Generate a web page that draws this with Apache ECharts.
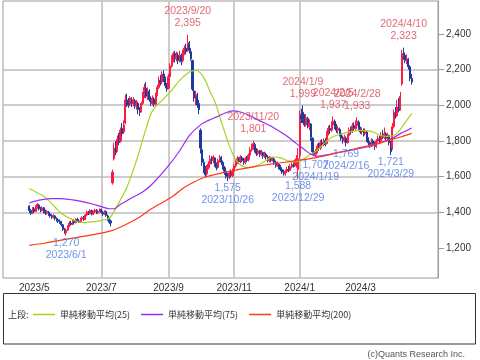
<!DOCTYPE html>
<html><head><meta charset="utf-8">
<script src="https://cdn.jsdelivr.net/npm/echarts@6/dist/echarts.min.js"></script>
<style>html,body{margin:0;padding:0;background:#fff}#c{width:480px;height:360px}</style>
</head><body><div id="c"></div>
<script>
// ---- categories: trading days (TSE calendar) ----
const startDate = '2023/4/26';
const endDate = '2024/4/17';
const holidays = ['2023/5/3','2023/5/4','2023/5/5','2023/7/17','2023/8/11','2023/9/18','2023/10/9','2023/11/3','2023/11/23','2024/1/1','2024/1/2','2024/1/3','2024/1/8','2024/2/12','2024/2/23','2024/3/20'];
const monthLabels = ['2023/5','2023/7','2023/9','2023/11','2024/1','2024/3'];
const yTicks = [1200,1400,1600,1800,2000,2200,2400];

// ---- daily OHLC ----
const opens = [
1435,1410,1400,1420,1405,1435,1440,1420,1410,1425,
1405,1395,1400,1390,1380,1372,1380,1365,1358,1350,
1345,1330,1305,1285,1300,1322,1340,1332,1350,1342,
1360,1352,1348,1362,1370,1360,1385,1400,1392,1410,
1390,1402,1412,1396,1405,1415,1400,1390,1405,1380,
1360,1352,1565,1700,1775,1745,1810,1800,1870,1850,
1900,2030,2020,2005,2030,2010,2025,1995,2010,1975,
1965,2010,2060,2095,2050,2075,2030,2010,2035,2005,
2060,2100,2140,2130,2175,2150,2110,2095,2160,2220,
2250,2290,2260,2280,2250,2280,2250,2290,2320,2305,
2345,2300,2250,2080,2040,2050,2010,1860,1750,1680,
1640,1615,1650,1670,1700,1690,1705,1670,1650,1690,
1705,1680,1650,1630,1600,1595,1620,1605,1630,1660,
1680,1700,1685,1705,1690,1680,1700,1695,1720,1750,
1760,1780,1745,1730,1745,1725,1735,1715,1725,1710,
1690,1705,1690,1700,1680,1660,1670,1650,1640,1625,
1615,1630,1640,1635,1655,1665,1660,1660,1640,1720,
1940,1960,1920,1890,1925,1880,1895,1815,1740,1725,
1740,1770,1760,1790,1780,1800,1785,1840,1870,1860,
1890,1910,1880,1860,1865,1840,1815,1800,1815,1790,
1830,1860,1850,1885,1870,1885,1905,1870,1850,1860,
1840,1850,1810,1790,1780,1800,1785,1770,1800,1815,
1800,1830,1820,1840,1815,1830,1790,1760,1880,1960,
1940,1990,1980,2120,2290,2280,2250,2255,2215,2150];
const closes = [
1410,1395,1425,1405,1435,1445,1420,1410,1425,1405,
1395,1405,1390,1380,1372,1382,1365,1358,1350,1345,
1330,1305,1290,1300,1322,1340,1332,1350,1342,1360,
1352,1348,1362,1370,1360,1385,1402,1392,1410,1390,
1402,1412,1396,1405,1418,1400,1390,1405,1382,1362,
1345,1340,1625,1760,1735,1810,1790,1860,1840,1890,
2030,2020,2000,2040,2010,2030,1995,2015,1975,1960,
2010,2060,2100,2050,2080,2030,2010,2040,2005,2060,
2100,2140,2130,2175,2150,2110,2090,2160,2220,2250,
2290,2260,2280,2250,2280,2245,2290,2320,2300,2350,
2310,2260,2090,2040,2060,2000,1975,1760,1680,1640,
1610,1650,1670,1700,1690,1710,1670,1650,1690,1710,
1680,1650,1630,1600,1595,1620,1605,1630,1660,1680,
1700,1685,1710,1690,1680,1700,1690,1720,1750,1770,
1785,1745,1730,1745,1725,1735,1715,1725,1710,1690,
1705,1690,1700,1680,1660,1670,1650,1640,1625,1615,
1630,1640,1635,1655,1665,1660,1680,1700,1700,1950,
1920,1920,1890,1930,1880,1900,1820,1740,1725,1740,
1770,1760,1790,1780,1800,1780,1840,1870,1860,1890,
1910,1880,1860,1870,1840,1815,1800,1820,1790,1830,
1860,1850,1885,1870,1900,1910,1870,1850,1860,1840,
1850,1810,1790,1780,1800,1785,1770,1800,1815,1800,
1830,1820,1840,1815,1830,1790,1740,1880,1960,1940,
1990,1970,2050,2290,2280,2250,2260,2215,2150,2130];
const lows = [
1395,1385,1390,1395,1400,1420,1410,1400,1405,1395,
1385,1388,1380,1370,1362,1365,1355,1348,1340,1335,
1320,1295,1280,1270,1295,1315,1325,1328,1335,1338,
1345,1340,1342,1355,1352,1358,1378,1385,1388,1382,
1385,1395,1390,1390,1400,1392,1380,1385,1375,1352,
1335,1322,1555,1690,1720,1740,1775,1790,1830,1840,
1895,1990,1985,1995,1990,1995,1980,1975,1950,1940,
1960,2000,2040,2040,2030,2020,1995,2000,1990,2000,
2050,2090,2110,2120,2130,2095,2075,2090,2150,2210,
2240,2240,2245,2230,2240,2225,2240,2280,2285,2300,
2290,2250,2080,2020,2000,1985,1950,1730,1660,1620,
1595,1605,1640,1660,1670,1675,1655,1635,1645,1680,
1665,1640,1610,1590,1575,1585,1595,1598,1620,1650,
1670,1670,1675,1680,1665,1670,1680,1685,1710,1740,
1750,1735,1715,1720,1710,1715,1700,1705,1695,1680,
1680,1680,1685,1665,1650,1655,1640,1630,1615,1605,
1605,1620,1625,1630,1645,1650,1655,1650,1588,1700,
1900,1900,1880,1880,1870,1860,1800,1725,1715,1707,
1730,1745,1750,1765,1770,1770,1780,1830,1840,1850,
1880,1865,1845,1840,1825,1800,1785,1790,1769,1785,
1820,1835,1845,1855,1860,1875,1860,1840,1835,1825,
1830,1795,1775,1760,1765,1770,1750,1760,1790,1790,
1795,1810,1810,1800,1805,1775,1721,1750,1870,1925,
1935,1960,1970,2110,2255,2235,2230,2200,2135,2115];
const highs = [
1440,1420,1430,1430,1440,1450,1448,1430,1435,1430,
1415,1412,1408,1398,1390,1390,1385,1372,1368,1360,
1352,1335,1312,1310,1328,1350,1352,1360,1362,1368,
1370,1362,1370,1378,1380,1392,1410,1408,1418,1415,
1410,1420,1418,1412,1422,1420,1408,1412,1410,1388,
1368,1360,1640,1790,1800,1830,1845,1875,1900,1915,
2060,2065,2040,2050,2045,2045,2035,2030,2020,1990,
2020,2075,2120,2130,2100,2090,2050,2055,2045,2070,
2115,2160,2170,2190,2195,2160,2125,2175,2235,2280,
2300,2305,2300,2295,2305,2290,2310,2335,2345,2395,
2360,2320,2255,2100,2080,2070,2030,1870,1760,1700,
1660,1665,1685,1720,1715,1720,1710,1680,1700,1720,
1715,1690,1660,1640,1620,1635,1640,1645,1670,1695,
1715,1710,1720,1715,1705,1710,1715,1730,1765,1785,
1801,1790,1760,1755,1750,1750,1740,1740,1735,1720,
1715,1712,1710,1705,1690,1685,1675,1665,1650,1640,
1640,1655,1660,1670,1680,1680,1695,1720,1760,1970,
1980,1999,1950,1950,1935,1920,1900,1820,1760,1755,
1785,1790,1805,1810,1815,1815,1855,1885,1890,1910,
1937,1920,1895,1885,1875,1850,1830,1835,1825,1840,
1875,1880,1900,1905,1915,1933,1915,1880,1875,1870,
1870,1855,1820,1800,1815,1810,1795,1810,1830,1830,
1850,1860,1875,1850,1845,1835,1800,1900,1975,1990,
2030,2040,2075,2310,2323,2295,2285,2265,2225,2175];

// ---- moving averages, read at sample trading-day indices [dayIndex, value] ----
const ma25 = [[0,1533],[4,1514],[8,1495],[12,1467],[16,1430],[20,1393],[27,1359],[33,1342],[39,1346],[45,1355],[50,1368],[54,1422],[61,1542],[67,1691],[73,1870],[77,1970],[84,2037],[88,2074],[94,2139],[100,2186],[104,2195],[107,2180],[110,2140],[113,2075],[116,2020],[121,1880],[127,1730],[132,1665],[137,1650],[142,1660],[147,1685],[152,1710],[157,1705],[162,1688],[166,1682],[170,1690],[174,1715],[178,1735],[182,1765],[186,1800],[190,1825],[196,1841],[201,1852],[205,1859],[211,1858],[215,1850],[219,1832],[223,1826],[227,1828],[230,1845],[233,1878],[236,1915],[239,1953]];
const ma75 = [[0,1452],[6,1468],[13,1477],[19,1477],[27,1470],[33,1460],[39,1448],[45,1432],[50,1420],[53,1420],[57,1445],[65,1486],[71,1515],[77,1560],[86,1650],[94,1745],[100,1830],[107,1890],[112,1915],[117,1935],[122,1955],[127,1968],[132,1962],[137,1945],[142,1922],[147,1900],[152,1878],[157,1850],[162,1820],[167,1785],[172,1752],[176,1725],[180,1715],[186,1722],[194,1738],[202,1750],[211,1766],[218,1785],[223,1800],[228,1820],[232,1841],[236,1858],[239,1872]];
const ma200 = [[0,1215],[10,1228],[19,1243],[30,1260],[40,1275],[52,1299],[60,1330],[69,1374],[76,1418],[88,1480],[97,1540],[103,1570],[110,1598],[116,1612],[123,1625],[132,1642],[140,1655],[147,1665],[155,1675],[162,1683],[169,1692],[180,1708],[194,1735],[208,1765],[219,1788],[225,1805],[232,1822],[239,1842]];

// ---- annotated highs / lows ----
const highMarks = [['2023/9/20',2395],['2023/11/20',1801],['2024/1/9',1999],['2024/2/5',1937],['2024/2/28',1933],['2024/4/10',2323]];
const lowMarks = [['2023/6/1',1270],['2023/10/26',1575],['2023/12/29',1588],['2024/1/19',1707],['2024/2/16',1769],['2024/3/29',1721]];

const seriesNames = ['単純移動平均(25)','単純移動平均(75)','単純移動平均(200)'];

function tradingDays(start, end, hol) {
  const out = [];
  const e = new Date(end);
  for (let d = new Date(start); d <= e; d.setDate(d.getDate() + 1)) {
    const wd = d.getDay();
    if (wd === 0 || wd === 6) continue;
    const key = d.getFullYear() + '/' + (d.getMonth() + 1) + '/' + d.getDate();
    if (hol.indexOf(key) >= 0) continue;
    out.push(key);
  }
  return out;
}
const dates = tradingDays(startDate, endDate, holidays);
const idxOf = d => dates.indexOf(d);
const monthIdx = monthLabels.map(m => dates.findIndex(d => d.indexOf(m + '/') === 0));
const monthLabelMap = {};
monthIdx.forEach((v, i) => { monthLabelMap[v] = monthLabels[i]; });
const fmt = v => Number(v).toLocaleString('en-US');

const NARROW = '"Liberation Sans Narrow", "Liberation Sans", sans-serif';
const JP = '"Noto Sans CJK JP", sans-serif';
const UP = '#ff1a44', DOWN = '#1e3a9e';
const C25 = '#a6d41e', C75 = '#9a2cf5', C200 = '#ff3a10';

const chart = echarts.init(document.getElementById('c'), null, {renderer: 'canvas'});
chart.setOption({
  animation: false,
  grid: {left: 3, right: 42, top: 1, bottom: 82, show: true, borderColor: '#9a9a9a', borderWidth: 1},
  legend: {
    data: seriesNames, left: 33, top: 310, padding: 0, icon: 'rect', itemWidth: 22, itemHeight: 1.5, itemGap: 11,
    textStyle: {fontSize: 9, fontFamily: JP, color: '#333'}, selectedMode: false
  },
  xAxis: {
    type: 'value', min: -16.5, max: 255.5,
    axisLine: {show: false, onZero: false},
    axisTick: {show: false, customValues: monthIdx},
    axisLabel: {customValues: monthIdx, formatter: v => monthLabelMap[v] || '', color: '#333', fontSize: 10, margin: 5, fontFamily: NARROW},
    splitLine: {show: true, showMinLine: false, showMaxLine: false, lineStyle: {color: '#bdbdbd', width: 1.5}}
  },
  yAxis: {
    type: 'value', position: 'right', min: 1032, max: 2584,
    axisLine: {show: true, onZero: false, lineStyle: {color: '#9a9a9a'}},
    axisTick: {show: true, inside: false, length: 6, customValues: yTicks, lineStyle: {color: '#9a9a9a'}},
    axisLabel: {customValues: yTicks, formatter: fmt, color: '#333', fontSize: 10, margin: 8, fontFamily: NARROW},
    splitLine: {show: true, showMinLine: false, showMaxLine: false, lineStyle: {color: '#bdbdbd', width: 1.5}}
  },
  series: [
    {
      type: 'candlestick', name: 'price',
      data: dates.map((d, i) => [i, opens[i], closes[i], lows[i], highs[i]]),
      encode: {x: 0, y: [1, 2, 3, 4]},
      barWidth: 1.6,
      itemStyle: {color: UP, color0: DOWN, borderColor: UP, borderColor0: DOWN, borderWidth: 1}
    },
    {type: 'line', name: seriesNames[0], data: ma25, showSymbol: false, smooth: 0.3, lineStyle: {width: 1.2, color: C25}, itemStyle: {color: C25}, z: 3},
    {type: 'line', name: seriesNames[1], data: ma75, showSymbol: false, smooth: 0.3, lineStyle: {width: 1.2, color: C75}, itemStyle: {color: C75}, z: 3},
    {type: 'line', name: seriesNames[2], data: ma200, showSymbol: false, smooth: 0.3, lineStyle: {width: 1.2, color: C200}, itemStyle: {color: C200}, z: 3},
    {
      type: 'scatter', silent: true, symbolSize: 1, itemStyle: {color: 'transparent'}, z: 5,
      data: highMarks.map(([d, v]) => [idxOf(d), v, d]),
      label: {show: true, position: 'top', distance: 5, formatter: p => p.data[2] + '\n' + fmt(p.data[1]), color: '#d9434d', fontSize: 10.5, lineHeight: 12, fontFamily: NARROW, align: 'center'}
    },
    {
      type: 'scatter', silent: true, symbolSize: 1, itemStyle: {color: 'transparent'}, z: 5,
      data: lowMarks.map(([d, v]) => [idxOf(d), v, d]),
      label: {show: true, position: 'bottom', distance: 1, formatter: p => fmt(p.data[1]) + '\n' + p.data[2], color: '#4a78e6', fontSize: 10.5, lineHeight: 12, fontFamily: NARROW, align: 'center'}
    }
  ],
  graphic: [
    {type: 'rect', shape: {x: 3.5, y: 293.5, width: 472, height: 50.5}, style: {fill: 'none', stroke: '#333', lineWidth: 1}},
    {type: 'text', left: 8, top: 310, style: {text: '上段:', fontSize: 9, fontFamily: JP, fill: '#333'}},
    {type: 'text', right: 15, top: 350, style: {text: '(c)Quants Research Inc.', fontSize: 9, fontFamily: NARROW, fill: '#555'}}
  ]
});
</script>
</body></html>
